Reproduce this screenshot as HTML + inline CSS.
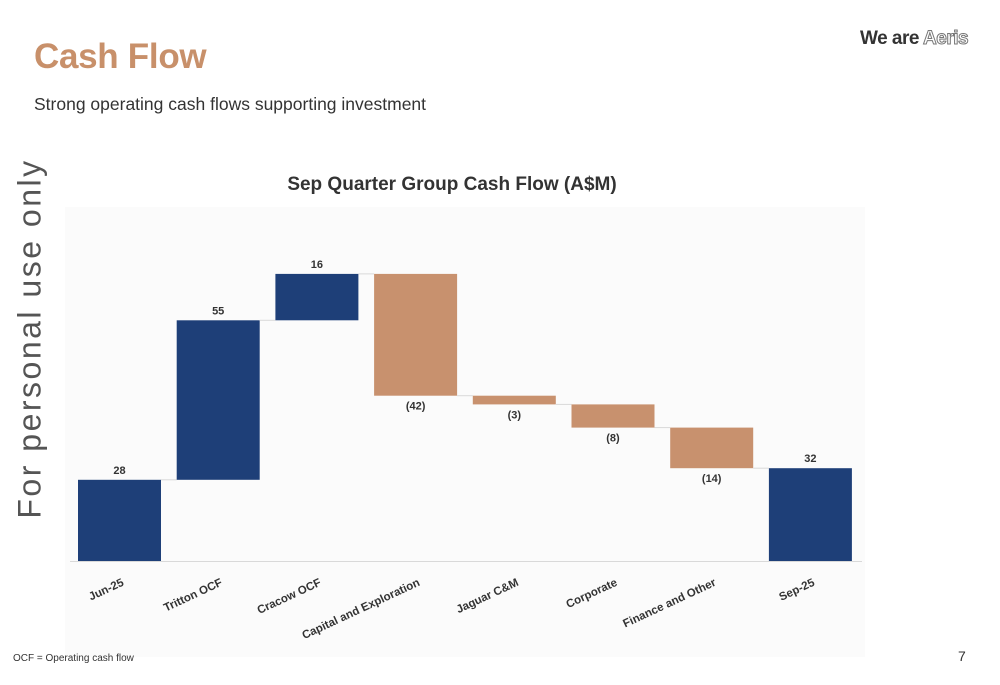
<!DOCTYPE html>
<html><head><meta charset="utf-8">
<style>
body{margin:0;width:1000px;height:685px;background:#fff;position:relative;overflow:hidden;font-family:"Liberation Sans",sans-serif}
.t{position:absolute;white-space:nowrap}
</style></head><body>
<svg width="1000" height="685" style="position:absolute;left:0;top:0">
<rect x="65" y="207" width="800" height="450" fill="#fbfbfb"/>
<text x="452" y="190" text-anchor="middle" font-size="19" font-weight="bold" fill="#333">Sep Quarter Group Cash Flow (A$M)</text>
<g id="g"></g>
</svg>
<div class="t" style="left:34px;top:37px;font-size:35px;font-weight:bold;color:#c8906a;letter-spacing:-0.3px">Cash Flow</div>
<div class="t" style="left:34px;top:94px;font-size:17.5px;color:#333">Strong operating cash flows supporting investment</div>
<div class="t" style="left:860px;top:28px;font-size:19px;font-weight:bold;color:#333;letter-spacing:-0.5px">We are <span style="color:#fff;-webkit-text-stroke:1px #777">Aeris</span></div>
<div class="t" style="left:-160px;top:320px;transform:rotate(-90deg);font-size:32px;color:#555;letter-spacing:2.5px;width:380px;text-align:center">For personal use only</div>
<div class="t" style="left:13px;top:653px;font-size:10px;color:#333">OCF = Operating cash flow</div>
<div class="t" style="left:958px;top:648px;font-size:14px;color:#333">7</div>
<script>
const categories=["Jun-25","Tritton OCF","Cracow OCF","Capital and Exploration","Jaguar C&M","Corporate","Finance and Other","Sep-25"];
const values=[28,55,16,-42,-3,-8,-14,32];
const kinds=["total","delta","delta","delta","delta","delta","delta","total"];
const labels=["28","55","16","(42)","(3)","(8)","(14)","32"];
const base=561,scale=2.9,x0=78,step=98.7,bw=83;
const y=v=>base-v*scale;
const g=document.getElementById('g');
const NS="http://www.w3.org/2000/svg";
function mk(t,a){const e=document.createElementNS(NS,t);for(const k in a)e.setAttribute(k,a[k]);g.appendChild(e);return e;}
const ax=mk('line',{x1:70,x2:862,y1:base+0.5,y2:base+0.5,stroke:'#d9d9d9','stroke-width':1});


let cum=0;
values.forEach((v,i)=>{
  let lo,hi;
  if(kinds[i]==="total"){lo=0;hi=v;cum=v;}
  else{const s=cum;cum+=v;lo=Math.min(s,cum);hi=Math.max(s,cum);}
  const x=x0+i*step;
  const col=(kinds[i]==="total"||v>=0)?"#1e3f78":"#c8916e";
  const r=mk('rect',{x:x,y:y(hi),width:bw,height:y(lo)-y(hi),fill:col});
  
  
  if(i<values.length-1){
    const c=mk('line',{x1:x+bw,x2:x+step,y1:y(cum),y2:y(cum),stroke:'#d9d9d9','stroke-width':1});
    
    
  }
  const cx=x+bw/2;
  const ly=v>=0?y(hi)-6:y(lo)+14;
  const t=mk('text',{x:cx,y:ly,'text-anchor':'middle','font-size':11,'font-weight':'bold',fill:'#333'});
  t.textContent=labels[i];
  
  
  const cl=mk('text',{x:cx+5,y:base+24,'text-anchor':'end','font-size':11.5,'font-weight':'bold',fill:'#333',transform:`rotate(-25 ${cx+5} ${base+24})`});
  cl.textContent=categories[i];
  
  
});
</script>
</body></html>
